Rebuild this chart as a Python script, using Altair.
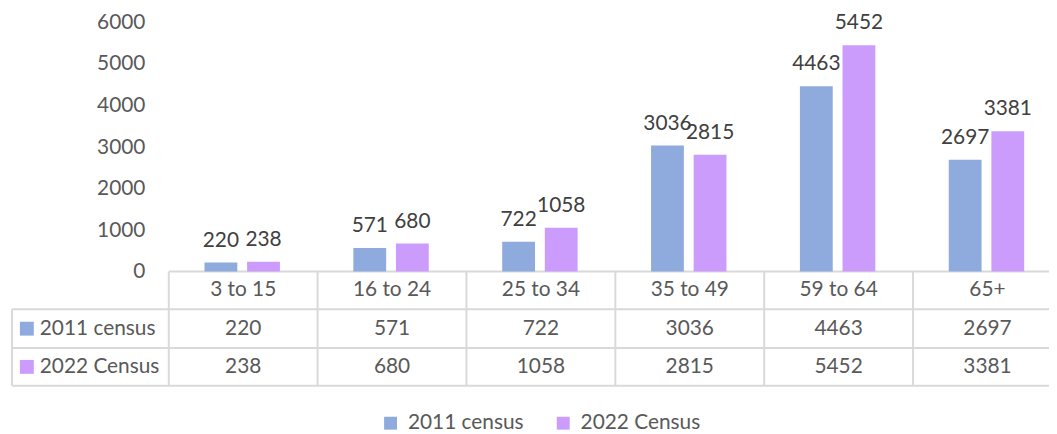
import altair as alt
import pandas as pd

categories = ["3 to 15", "16 to 24", "25 to 34", "35 to 49", "59 to 64", "65+"]
series = ["2011 census", "2022 Census"]
census_2011 = [220, 571, 722, 3036, 4463, 2697]
census_2022 = [238, 680, 1058, 2815, 5452, 3381]
y_ticks = [0, 1000, 2000, 3000, 4000, 5000, 6000]
colors = ["#8FAADC", "#CC9CFC"]

FONT = "Lato"
FS = 21
TXT = "#595959"
LBL = "#404040"
GRID = "#D9D9D9"

rows = []
for s, vals in zip(series, [census_2011, census_2022]):
    for c, v in zip(categories, vals):
        rows.append({"cat": c, "series": s, "value": v})
df = pd.DataFrame(rows)
cat_df = pd.DataFrame({"cat": categories})
ser_df = pd.DataFrame({"series": series})
one = pd.DataFrame({"k": [0]})

W, H = 887, 251
TOP = 13
# local y positions (plot origin at page y = 8 + TOP)
Y0 = H                     # table top
R1, R2, R3 = 310 - 8 - TOP, 349 - 8 - TOP, 387 - 8 - TOP
HDR = (Y0 + R1) / 2
ROWY = [(R1 + R2) / 2, (R2 + R3) / 2]

xscale = alt.Scale(domain=categories, range=[0, 900], paddingInner=0, paddingOuter=0)
xoff = alt.XOffset("series:N", scale=alt.Scale(domain=series, range=[36, 112], paddingInner=0.23, paddingOuter=0))
X = alt.X("cat:N", sort=categories, scale=xscale, axis=None)
yaxis = alt.Axis(values=y_ticks, grid=False, domain=False, ticks=False, format="d",
                 labelFontSize=FS, labelColor=TXT, labelFont=FONT,
                 labelPadding=24, title=None)
Y = alt.Y("value:Q", scale=alt.Scale(domain=[0, 6000]), axis=yaxis)

base = alt.Chart(df)

bars = base.mark_bar().encode(
    x=X,
    xOffset=xoff,
    y=Y,
    color=alt.Color("series:N", scale=alt.Scale(domain=series, range=colors),
                    legend=alt.Legend(orient="none", legendX=213, legendY=R3 + 27,
                                      direction="horizontal", title=None,
                                      symbolType="square", symbolSize=169,
                                      symbolStrokeWidth=0, symbolOpacity=1,
                                      labelFontSize=FS, labelFont=FONT, labelColor=TXT,
                                      labelOffset=7, columnPadding=29)),
)

labels = base.mark_text(dy=-22, baseline="middle", fontSize=FS, font=FONT, color=LBL).encode(
    x=X, xOffset=xoff, y=Y, text=alt.Text("value:Q")
)

def hrule(x0, x1, y):
    return alt.Chart(one).mark_rule(color=GRID, strokeWidth=2, orient="horizontal").encode(
        x=alt.value(x0), x2=alt.value(x1), y=alt.value(y))

grid_layers = [
    hrule(0, 900, Y0),
    hrule(-158, 900, R1),
    hrule(-158, 900, R2),
    hrule(-158, 900, R3),
    alt.Chart(one).mark_rule(color=GRID, strokeWidth=2, orient="vertical").encode(
        x=alt.value(-158), y=alt.value(R1), y2=alt.value(R3)),
    alt.Chart(cat_df).mark_rule(color=GRID, strokeWidth=2, orient="vertical").encode(
        x=alt.X("cat:N", sort=categories, scale=xscale, axis=None, bandPosition=0),
        y=alt.value(Y0), y2=alt.value(R3)),
]

header = alt.Chart(cat_df).mark_text(baseline="middle", fontSize=FS, font=FONT, color=TXT).encode(
    x=X, y=alt.value(HDR), text="cat:N")

row_layers = []
for s, ypix, col in zip(series, ROWY, colors):
    row_layers.append(
        base.transform_filter(alt.datum.series == s)
        .mark_text(baseline="middle", fontSize=FS, font=FONT, color=TXT)
        .encode(x=X, y=alt.value(ypix), text="value:Q"))
    row_layers.append(
        alt.Chart(ser_df).transform_filter(alt.datum.series == s)
        .mark_text(baseline="middle", align="left", fontSize=FS, font=FONT, color=TXT)
        .encode(x=alt.value(-130), y=alt.value(ypix), text="series:N"))
    row_layers.append(
        alt.Chart(ser_df).transform_filter(alt.datum.series == s)
        .mark_square(size=196, opacity=1, color=col)
        .encode(x=alt.value(-143), y=alt.value(ypix)))

chart = alt.layer(*grid_layers, bars, labels, header, *row_layers).properties(
    width=W, height=H,
    background="white",
    autosize=alt.AutoSizeParams(type="none"),
    padding={"left": 162, "top": TOP, "right": 0, "bottom": 426 - TOP - H},
).configure_view(strokeWidth=0).configure_axis(domain=False, grid=False, ticks=False)

chart.save("out.html", embed_options={"renderer": "svg", "actions": False})
